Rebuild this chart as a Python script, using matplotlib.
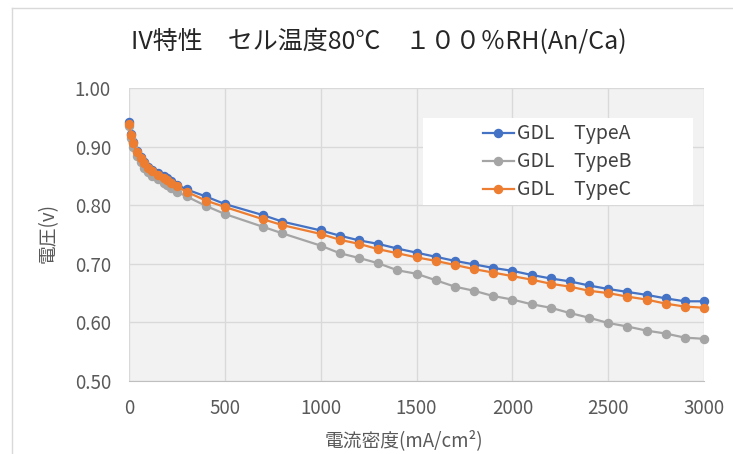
import matplotlib
matplotlib.use("Agg")
import matplotlib.pyplot as plt
from matplotlib.lines import Line2D
from matplotlib.patches import Rectangle

plt.rcParams['font.family'] = ['Noto Sans CJK JP', 'DejaVu Sans']

current = [0, 10, 20, 40, 60, 80, 100, 120, 150, 180, 200, 220, 250, 300,
           400, 500, 700, 800,
           1000, 1100, 1200, 1300, 1400, 1500, 1600, 1700, 1800, 1900, 2000,
           2100, 2200, 2300, 2400, 2500, 2600, 2700, 2800, 2900, 3000]

type_a = [0.942, 0.922, 0.908, 0.893, 0.882, 0.874, 0.866, 0.860, 0.855, 0.849, 0.846, 0.841, 0.835, 0.827,
          0.815, 0.802, 0.783, 0.772,
          0.757, 0.748, 0.740, 0.734, 0.726, 0.719, 0.712, 0.705, 0.699, 0.693, 0.688,
          0.681, 0.675, 0.670, 0.663, 0.657, 0.652, 0.647, 0.641, 0.636, 0.636]

type_b = [0.935, 0.915, 0.900, 0.884, 0.873, 0.864, 0.856, 0.850, 0.844, 0.838, 0.834, 0.829, 0.823, 0.815,
          0.799, 0.785, 0.763, 0.752,
          0.731, 0.718, 0.710, 0.701, 0.689, 0.683, 0.672, 0.661, 0.654, 0.645, 0.639,
          0.631, 0.625, 0.616, 0.608, 0.599, 0.593, 0.586, 0.581, 0.574, 0.572]

type_c = [0.938, 0.920, 0.906, 0.891, 0.880, 0.872, 0.864, 0.858, 0.852, 0.846, 0.843, 0.838, 0.832, 0.823,
          0.808, 0.797, 0.776, 0.766,
          0.751, 0.741, 0.734, 0.725, 0.718, 0.711, 0.705, 0.698, 0.691, 0.685, 0.679,
          0.673, 0.666, 0.661, 0.654, 0.650, 0.644, 0.639, 0.632, 0.627, 0.625]

labels = ['GDL\u3000TypeA', 'GDL\u3000TypeB', 'GDL\u3000TypeC']
colors = ['#4472C4', '#A5A5A5', '#ED7D31']
x_ticks = [0, 500, 1000, 1500, 2000, 2500, 3000]
y_ticks = [0.50, 0.60, 0.70, 0.80, 0.90, 1.00]

title = 'IV特性\u3000セル温度80℃\u3000１００％RH(An/Ca)'
xlabel = '電流密度(mA/cm²)'
ylabel = '電圧(v)'

fig = plt.figure(figsize=(7.33, 4.54), dpi=100)
W, H = 733, 454
ax = fig.add_axes([129 / W, 1 - 381 / H, (704 - 129) / W, (381 - 88) / H])
ax.set_facecolor('#F2F2F2')

for ys, lab, col in zip([type_a, type_b, type_c], labels, colors):
    ax.plot(current, ys, color=col, lw=1.6, marker='o', ms=5.8, label=lab, clip_on=False, zorder=3)

ax.set_xlim(0, 3000)
ax.set_ylim(0.5, 1.0)
ax.set_xticks(x_ticks)
ax.set_yticks(y_ticks)
ax.set_yticklabels([f'{v:.2f}' for v in y_ticks])
ax.grid(True, color='#D9D9D9', lw=1.0)
ax.set_axisbelow(True)
for s in ['top', 'right', 'left']:
    ax.spines[s].set_visible(False)
ax.spines['bottom'].set_color('#BFBFBF')
ax.tick_params(length=0, labelsize=13.5, colors='#595959')
ax.tick_params(axis='y', pad=13)
ax.tick_params(axis='x', pad=12)

fig.text(379 / W, 1 - 42 / H, title, fontsize=18, color='#262626', ha='center', va='center')
fig.text(404 / W, 1 - 441 / H, xlabel, fontsize=13.5, color='#595959', ha='center', va='center')
fig.text(48 / W, 1 - 233 / H, ylabel, fontsize=13.5, color='#595959', ha='center', va='center',
         rotation=90)

# legend background box
ax.add_patch(Rectangle(((423 - 129) / 575, (381 - 205) / 293), (693 - 423) / 575, (205 - 118) / 293,
                       transform=ax.transAxes, facecolor='white', edgecolor='none', zorder=4))
leg = ax.legend(loc='center', bbox_to_anchor=((557 - 129) / 575, (381 - 162) / 293), fontsize=14,
                frameon=False, handlelength=1.6, handletextpad=0.15,
                borderpad=0.2, labelspacing=0.36)
leg.set_zorder(5)
for t in leg.get_texts():
    t.set_color('#404040')

fig.add_artist(Line2D([12 / W, 12 / W], [0, 1 - 8 / H], color='#D9D9D9', lw=1.0))
fig.add_artist(Line2D([12 / W, 1], [1 - 8 / H, 1 - 8 / H], color='#D9D9D9', lw=1.0))

fig.savefig('out.png', dpi=100)
